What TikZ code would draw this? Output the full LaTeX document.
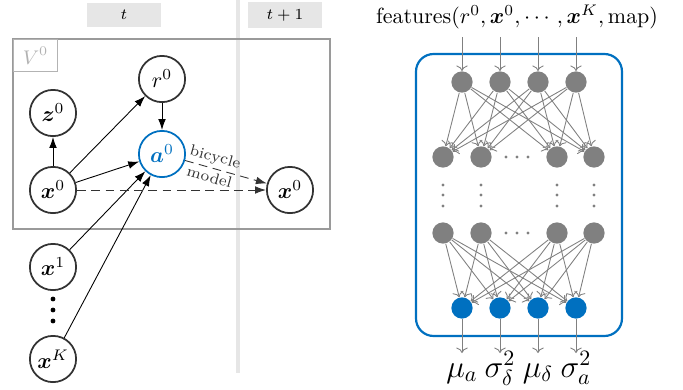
\documentclass[tikz,border=0pt]{standalone}
\usepackage{amsmath}
\usepackage{bm}
\usetikzlibrary{
  arrows.meta,
  calc,
}
\definecolor{cA}{HTML}{0070C0}
\definecolor{cG}{HTML}{808080}
\definecolor{cL}{HTML}{E6E6E6}

\begin{document}
\begin{tikzpicture}[x=0.016cm,y=-0.016cm,
    var/.style={circle,draw=black!80,thick,minimum size=0.74cm,inner sep=0pt},
    unit/.style={circle,fill=cG,minimum size=0.34cm,inner sep=0pt},
    hdr/.style={fill=cL,minimum width=1.18cm,minimum height=0.38cm,font=\scriptsize},
    edge/.style={-{Latex[length=5pt,width=3.5pt]}},
    wire/.style={->,cG,thin},
    outlbl/.style={font=\Large,anchor=base,inner sep=0pt},
  ]
  \useasboundingbox (0,0) rectangle (683,390);

  % time slices
  \node[hdr] (ht) at (124,15) {$t$};
  \node[hdr] (hn) at (285,15) {$t+1$};
  \draw[cL,line width=1.8pt] (238,0) -- (238,373);

  % plate
  \draw[cG!80,semithick] (13,39) rectangle (330,229);
  \node[draw=cG!60,semithick,anchor=north west,minimum width=0.7cm,minimum height=0.51cm,
    text=black!30,font=\small] (plate) at (13,39) {$V^0$};

  % variables
  \node[var] (r0) at (162,79) {$r^0$};
  \node[var] (z0) at (53,113) {$\bm{z}^0$};
  \node[var,draw=cA,text=cA] (a0) at (162,154) {$\bm{a}^0$};
  \node[var] (x0) at (53,190) {$\bm{x}^0$};
  \node[var] (xn) at (290,190) {$\bm{x}^0$};
  \node[var] (x1) at (53,267) {$\bm{x}^1$};
  \node[var] (xK) at (53,359) {$\bm{x}^K$};
  \foreach \y in {299,310,321}{
      \fill (53,\y) circle (1.1pt);
    }

  \draw[edge] (x0) -- (z0);
  \draw[edge] (x0) -- (r0);
  \draw[edge] (x0) -- (a0);
  \draw[edge] (r0) -- (a0);
  \draw[edge] (x1) -- (a0);
  \draw[edge] (xK) -- (a0);
  \draw[edge,black!80,dash pattern=on 4pt off 2.5pt] (x0) -- (xn);
  \draw[edge,black!80,dash pattern=on 4pt off 2.5pt] (a0) -- (xn)
    node[pos=0.33,sloped,above,font=\scriptsize,inner sep=1.5pt] {bicycle}
    node[pos=0.33,sloped,below,font=\scriptsize,inner sep=1.5pt] {model};

  % network
  \node (feat) at (517,17) {features$(r^0,\bm{x}^0,\cdots,\bm{x}^K,\mathrm{map})$};
  \draw[cA,line width=1pt,rounded corners=8pt] (416,54) rectangle (622,336);

  \foreach \x [count=\i] in {462,500,538,576}{
      \node[unit] (in\i) at (\x,82) {};
      \node[unit,fill=cA] (out\i) at (\x,308) {};
      \coordinate (s\i) at (\x,37);
      \coordinate (e\i) at (\x,353);
      \draw[wire] (s\i) -- (in\i);
      \draw[wire] (out\i) -- (e\i);
    }
  \foreach \x [count=\i] in {443,481,557,594}{
      \node[unit] (ha\i) at (\x,157) {};
      \node[unit] (hb\i) at (\x,233) {};
      \foreach \y in {185,195,206}{
          \fill[cG] (\x,\y) circle (0.7pt);
        }
    }
  \foreach \x in {506,517,528}{
      \fill[cG] (\x,157) circle (0.7pt);
      \fill[cG] (\x,233) circle (0.7pt);
    }
  \foreach \i in {1,...,4}{
      \foreach \j in {1,...,4}{
          \draw[wire] (in\i) -- (ha\j);
          \draw[wire] (hb\i) -- (out\j);
        }
    }

  \node[outlbl] (mua) at (462,377) {$\mu_a$};
  \node[outlbl] (sgd) at (500,377) {$\sigma^2_\delta$};
  \node[outlbl] (mud) at (538,377) {$\mu_\delta$};
  \node[outlbl] (sga) at (576,377) {$\sigma^2_a$};
\end{tikzpicture}
\end{document}
